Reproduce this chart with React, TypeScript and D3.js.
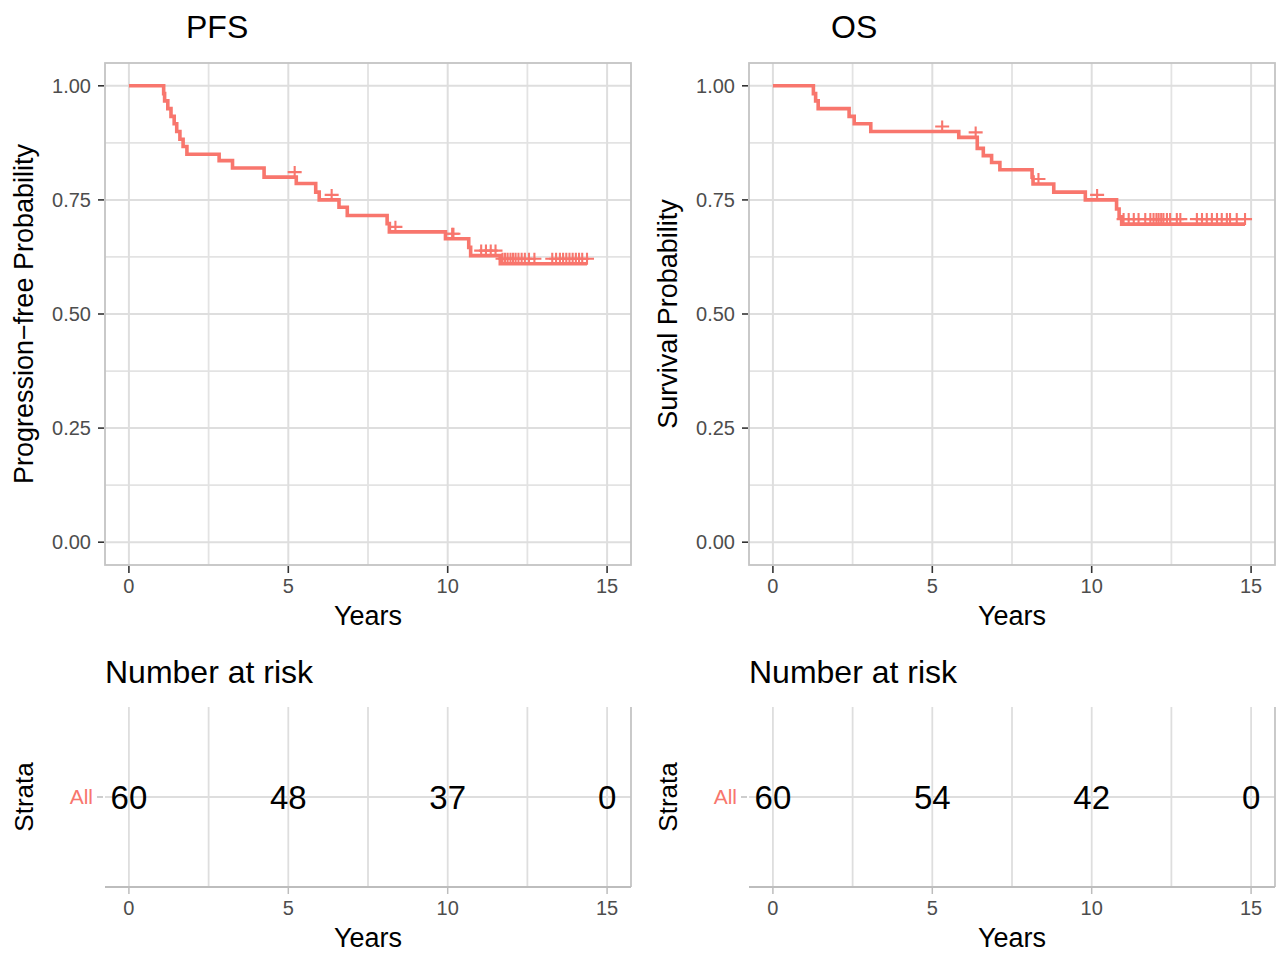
import React, { useEffect, useRef } from "react";
import * as d3 from "d3";

const RED = "#F8766D";
const FONT = "'Liberation Sans', Arial, Helvetica, sans-serif";

// axis breaks
const xTicks = [0, 5, 10, 15];
const xMinor = [2.5, 7.5, 12.5];
const yTicks = [0, 0.25, 0.5, 0.75, 1];
const yMinor = [0.125, 0.375, 0.625, 0.875];
const riskTimes = [0, 5, 10, 15];

// PFS: step times (years) and survival after each step
const pfsTimes = [1.09, 1.12, 1.22, 1.32, 1.42, 1.5, 1.6, 1.7, 1.82, 2.83, 3.25, 4.24, 5.25, 5.86, 5.97, 6.59, 6.85, 8.1, 8.17, 9.93, 10.66, 10.72, 11.65];
const pfsSurv = [0.983, 0.967, 0.95, 0.933, 0.917, 0.9, 0.883, 0.867, 0.85, 0.836, 0.82, 0.8, 0.786, 0.767, 0.75, 0.734, 0.716, 0.698, 0.68, 0.665, 0.646, 0.628, 0.61];
const pfsCensor = [5.2, 6.36, 8.36, 10.14, 10.18, 11.05, 11.2, 11.35, 11.5, 11.72, 11.8, 11.88, 11.97, 12.05, 12.13, 12.22, 12.32, 12.42, 12.55, 12.72, 13.28, 13.4, 13.52, 13.62, 13.72, 13.82, 13.92, 14.02, 14.12, 14.22, 14.37];
const pfsRisk = [60, 48, 37, 0];

// OS
const osTimes = [1.27, 1.34, 1.42, 2.39, 2.55, 3.07, 5.83, 6.41, 6.6, 6.86, 7.12, 8.13, 8.16, 8.81, 9.8, 10.78, 10.86, 10.94];
const osSurv = [0.983, 0.967, 0.95, 0.933, 0.917, 0.9, 0.887, 0.863, 0.847, 0.832, 0.816, 0.8, 0.785, 0.767, 0.75, 0.73, 0.713, 0.697];
const osCensor = [5.31, 6.36, 8.33, 10.17, 11.0, 11.16, 11.32, 11.47, 11.68, 11.84, 11.94, 12.03, 12.1, 12.18, 12.25, 12.36, 12.46, 12.67, 12.78, 13.3, 13.46, 13.61, 13.77, 13.93, 14.08, 14.24, 14.34, 14.55, 14.81];
const osRisk = [60, 54, 42, 0];

interface PanelSpec {
  x0: number;
  title: string;
  titleX: number;
  yLabel: string;
  times: number[];
  surv: number[];
  censor: number[];
  risk: number[];
}

const panels: PanelSpec[] = [
  { x0: 105, title: "PFS", titleX: 186, yLabel: "Progression\u2212free Probability", times: pfsTimes, surv: pfsSurv, censor: pfsCensor, risk: pfsRisk },
  { x0: 749, title: "OS", titleX: 831, yLabel: "Survival Probability", times: osTimes, surv: osSurv, censor: osCensor, risk: osRisk },
];

function drawPanel(svg: d3.Selection<SVGSVGElement, unknown, null, undefined>, p: PanelSpec) {
  const w = 526;
  const top = 63;
  const bottom = 565;
  const x = d3.scaleLinear().domain([-0.75, 15.75]).range([p.x0, p.x0 + w]);
  const y = d3.scaleLinear().domain([-0.05, 1.05]).range([bottom, top]);
  const g = svg.append("g").attr("font-family", FONT);

  // grid
  g.selectAll(".vminor").data(xMinor).enter().append("line")
    .attr("x1", (d) => x(d)).attr("x2", (d) => x(d)).attr("y1", top).attr("y2", bottom)
    .attr("stroke", "#E3E3E3").attr("stroke-width", 1.8);
  g.selectAll(".hminor").data(yMinor).enter().append("line")
    .attr("x1", p.x0).attr("x2", p.x0 + w).attr("y1", (d) => y(d)).attr("y2", (d) => y(d))
    .attr("stroke", "#E3E3E3").attr("stroke-width", 1.8);
  g.selectAll(".vmajor").data(xTicks).enter().append("line")
    .attr("x1", (d) => x(d)).attr("x2", (d) => x(d)).attr("y1", top).attr("y2", bottom)
    .attr("stroke", "#DEDEDE").attr("stroke-width", 2);
  g.selectAll(".hmajor").data(yTicks).enter().append("line")
    .attr("x1", p.x0).attr("x2", p.x0 + w).attr("y1", (d) => y(d)).attr("y2", (d) => y(d))
    .attr("stroke", "#DEDEDE").attr("stroke-width", 2);
  g.append("rect").attr("x", p.x0).attr("y", top).attr("width", w).attr("height", bottom - top)
    .attr("fill", "none").attr("stroke", "#C4C4C4").attr("stroke-width", 1.8);

  // y axis
  g.selectAll(".ytick").data(yTicks).enter().append("line")
    .attr("x1", p.x0 - 7).attr("x2", p.x0 - 1).attr("y1", (d) => y(d)).attr("y2", (d) => y(d))
    .attr("stroke", "#333").attr("stroke-width", 1.6);
  g.selectAll(".ylab").data(yTicks).enter().append("text")
    .attr("x", p.x0 - 14).attr("y", (d) => y(d)).attr("dy", "0.35em")
    .attr("text-anchor", "end").attr("font-size", 20).attr("fill", "#4D4D4D")
    .text((d) => d3.format(".2f")(d));
  g.append("text").attr("transform", `translate(${p.x0 - 72},${(top + bottom) / 2}) rotate(-90)`)
    .attr("text-anchor", "middle").attr("font-size", 27).attr("fill", "#000").text(p.yLabel);

  // x axis
  g.selectAll(".xtick").data(xTicks).enter().append("line")
    .attr("x1", (d) => x(d)).attr("x2", (d) => x(d)).attr("y1", bottom + 1).attr("y2", bottom + 8)
    .attr("stroke", "#333").attr("stroke-width", 1.6);
  g.selectAll(".xlab").data(xTicks).enter().append("text")
    .attr("x", (d) => x(d)).attr("y", 593).attr("text-anchor", "middle")
    .attr("font-size", 20).attr("fill", "#4D4D4D").text((d) => d);
  g.append("text").attr("x", p.x0 + w / 2).attr("y", 625).attr("text-anchor", "middle")
    .attr("font-size", 27).attr("fill", "#000").text("Years");

  // title
  g.append("text").attr("x", p.titleX).attr("y", 38).attr("font-size", 32).attr("fill", "#000").text(p.title);

  // KM curve
  const lastT = Math.max(p.times[p.times.length - 1], p.censor[p.censor.length - 1]);
  const pts: [number, number][] = [[0, 1]];
  p.times.forEach((t, i) => pts.push([t, p.surv[i]]));
  pts.push([lastT, p.surv[p.surv.length - 1]]);
  const line = d3.line<[number, number]>().x((d) => x(d[0])).y((d) => y(d[1])).curve(d3.curveStepAfter);
  g.append("path").attr("d", line(pts)).attr("fill", "none").attr("stroke", RED).attr("stroke-width", 3.6);

  const survAt = (t: number) => {
    let s = 1;
    p.times.forEach((tt, i) => { if (tt <= t) s = p.surv[i]; });
    return s;
  };
  g.selectAll(".cens").data(p.censor).enter().append("path")
    .attr("transform", (d) => `translate(${x(d)},${y(survAt(d)) - 5})`)
    .attr("d", "M-7,0H7M0,-6V6").attr("stroke", RED).attr("stroke-width", 2.1).attr("fill", "none");

  // risk table
  const rTop = 707;
  const rBot = 887;
  const rMid = 797;
  g.selectAll(".rv").data([...xMinor, ...xTicks]).enter().append("line")
    .attr("x1", (d) => x(d)).attr("x2", (d) => x(d)).attr("y1", rTop).attr("y2", rBot)
    .attr("stroke", "#DEDEDE").attr("stroke-width", 1.8);
  g.append("line").attr("x1", p.x0).attr("x2", p.x0 + w).attr("y1", rMid).attr("y2", rMid)
    .attr("stroke", "#DEDEDE").attr("stroke-width", 2);
  g.append("line").attr("x1", p.x0 + w).attr("x2", p.x0 + w).attr("y1", rTop).attr("y2", rBot)
    .attr("stroke", "#C4C4C4").attr("stroke-width", 1.8);
  g.append("line").attr("x1", p.x0).attr("x2", p.x0 + w).attr("y1", rBot).attr("y2", rBot)
    .attr("stroke", "#BDBDBD").attr("stroke-width", 2);
  g.selectAll(".rtick").data(xTicks).enter().append("line")
    .attr("x1", (d) => x(d)).attr("x2", (d) => x(d)).attr("y1", rBot + 1).attr("y2", rBot + 7)
    .attr("stroke", "#BDBDBD").attr("stroke-width", 1.5);
  g.selectAll(".rxlab").data(xTicks).enter().append("text")
    .attr("x", (d) => x(d)).attr("y", 915).attr("text-anchor", "middle")
    .attr("font-size", 20).attr("fill", "#4D4D4D").text((d) => d);
  g.append("text").attr("x", p.x0 + w / 2).attr("y", 947).attr("text-anchor", "middle")
    .attr("font-size", 27).attr("fill", "#000").text("Years");
  g.append("text").attr("x", p.x0).attr("y", 683).attr("font-size", 32).attr("fill", "#000").text("Number at risk");
  g.append("text").attr("transform", `translate(${p.x0 - 72},${rMid}) rotate(-90)`)
    .attr("text-anchor", "middle").attr("font-size", 26).attr("fill", "#000").text("Strata");
  g.append("line").attr("x1", p.x0 - 8).attr("x2", p.x0 - 2).attr("y1", rMid).attr("y2", rMid)
    .attr("stroke", "#BDBDBD").attr("stroke-width", 1.5);
  g.append("text").attr("x", p.x0 - 12).attr("y", rMid).attr("dy", "0.35em").attr("text-anchor", "end")
    .attr("font-size", 21).attr("fill", RED).text("All");
  g.selectAll(".risk").data(p.risk).enter().append("text")
    .attr("x", (d, i) => x(riskTimes[i])).attr("y", rMid).attr("dy", "0.36em").attr("text-anchor", "middle")
    .attr("font-size", 33).attr("fill", "#000").text((d) => d);
}

export default function App() {
  const ref = useRef<SVGSVGElement>(null);
  useEffect(() => {
    const svg = d3.select(ref.current as SVGSVGElement);
    svg.selectAll("*").remove();
    panels.forEach((p) => drawPanel(svg, p));
  }, []);
  return (
    <svg
      ref={ref}
      width={1276}
      height={954}
      style={{ position: "absolute", left: 0, top: 0, background: "#fff" }}
    />
  );
}
